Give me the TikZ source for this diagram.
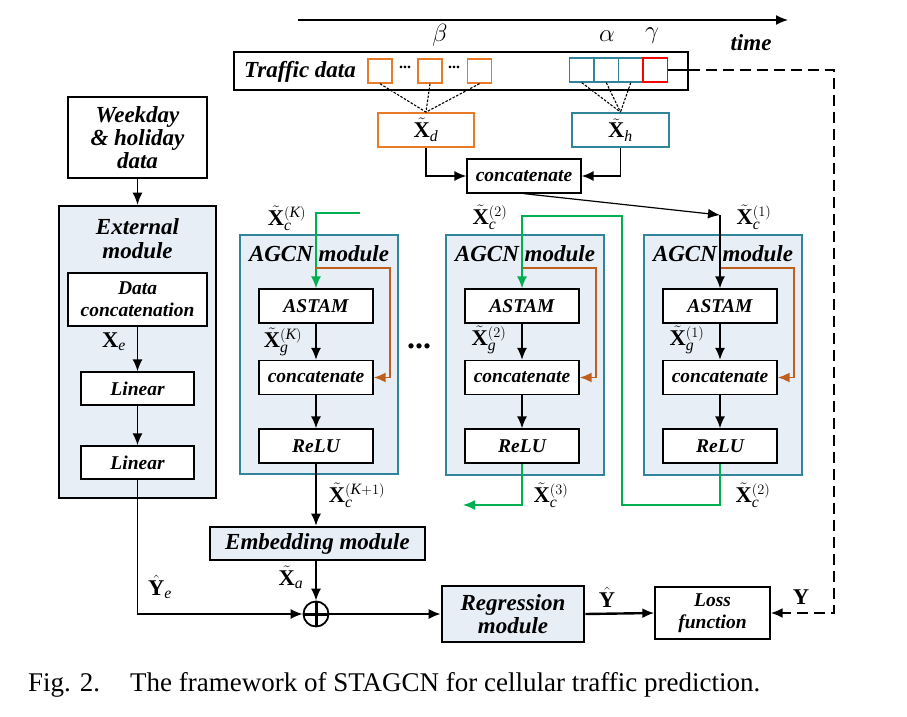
\documentclass[tikz,border=0pt]{standalone}
\usepackage{fontspec}
\setmainfont{Liberation Serif}
\usetikzlibrary{arrows.meta}
\definecolor{tealline}{RGB}{49,133,155}
\definecolor{orangeline}{RGB}{232,122,40}
\definecolor{greenline}{RGB}{0,176,80}
\definecolor{brownline}{RGB}{190,95,30}
\definecolor{modfill}{RGB}{232,238,246}
\newcommand{\headfont}{\fontsize{23}{25}\selectfont\bfseries\itshape}
\newcommand{\boxfont}{\fontsize{19.5}{23}\selectfont\bfseries\itshape}
\newcommand{\labfont}{\fontsize{22.5}{26}\selectfont}
\newcommand{\tX}{\tilde{\mathbf{X}}}
\tikzset{
  plainbox/.style={draw, fill=white, line width=1.3pt, inner sep=0pt, font=\boxfont},
  modbox/.style={draw=tealline, fill=modfill, line width=2pt, inner sep=0pt},
  thickbox/.style={draw, fill=modfill, line width=2.6pt, inner sep=0pt, align=center, font=\headfont},
  headtext/.style={inner sep=0pt, align=center, font=\headfont},
  lab/.style={inner sep=0pt, font=\labfont},
  conn/.style={->, line width=1.5pt},
  greenconn/.style={->, draw=greenline, line width=1.6pt},
  brownconn/.style={->, draw=brownline, line width=1.8pt},
  dotconn/.style={line width=1.1pt, dash pattern=on 2.5pt off 1.5pt},
  dashconn/.style={->, line width=2.2pt, dash pattern=on 11pt off 6pt},
  cell/.style={draw, fill=white, line width=1.4pt, minimum width=24pt, minimum height=24pt, inner sep=0pt}
}
\begin{document}
\begin{tikzpicture}[x=1pt, y=-1pt, >={Latex[length=12pt,width=10pt]}]
  \useasboundingbox (0,0) rectangle (907,717);
  % time axis
  \coordinate (t0) at (298,20);
  \coordinate (t1) at (788,20);
  \draw[conn] (t0) -- (t1);
  \node[headtext] (time) at (751,43) {time};
  \node[lab, font=\fontsize{25}{28}\selectfont] (beta) at (440,35) {$\beta$};
  \node[lab, font=\fontsize{25}{28}\selectfont] (alpha) at (607,36) {$\alpha$};
  \node[lab, font=\fontsize{25}{28}\selectfont] (gamma) at (652,36) {$\gamma$};
  % traffic data
  \node[draw, line width=1.3pt, minimum width=454pt, minimum height=38pt, inner sep=0pt] (traffic) at (461,71) {};
  \node[headtext] (traffictext) at (300,72) {Traffic data};
  \node[cell, draw=orangeline] (d1) at (380,71) {};
  \node[cell, draw=orangeline] (d2) at (430,71) {};
  \node[cell, draw=orangeline] (d3) at (479.5,71) {};
  \node[inner sep=0pt, font=\fontsize{16}{16}\selectfont\bfseries] (dots1) at (405,67) {...};
  \node[inner sep=0pt, font=\fontsize{16}{16}\selectfont\bfseries] (dots2) at (454,67) {...};
  \node[cell, draw=tealline, minimum width=24.5pt] (h1) at (581.75,70) {};
  \node[cell, draw=tealline, minimum width=24.5pt] (h2) at (606.25,70) {};
  \node[cell, draw=tealline, minimum width=24.5pt] (h3) at (630.75,70) {};
  \node[cell, draw=red, minimum width=24.5pt] (now) at (655.25,70) {};
  % daily and hourly parts
  \node[draw=orangeline, line width=1.8pt, minimum width=96pt, minimum height=34pt, inner sep=0pt, font=\labfont] (Xd) at (426,130) {$\tX_{\mathit{d}}$};
  \node[draw=tealline, line width=1.8pt, minimum width=97pt, minimum height=34pt, inner sep=0pt, font=\labfont] (Xh) at (620.5,130) {$\tX_{\mathit{h}}$};
  \draw[dotconn] (d1.south) -- (Xd.north);
  \draw[dotconn] (d2.south) -- (Xd.north);
  \draw[dotconn] (d3.south) -- (Xd.north);
  \draw[dotconn] (h1.south) -- (Xh.north);
  \draw[dotconn] (h2.south) -- (Xh.north);
  \draw[dotconn] (h3.south) -- (Xh.north);
  \node[plainbox, minimum width=114pt, minimum height=34pt] (cat0) at (524,176) {concatenate};
  \draw[conn] (Xd.south) |- (cat0.west);
  \draw[conn] (Xh.south) |- (cat0.east);
  % external branch
  \node[draw, line width=1.5pt, minimum width=139pt, minimum height=81pt, inner sep=0pt, align=center, font=\headfont] (week) at (137.5,137.5) {Weekday\\[-2pt]\& holiday\\[-2pt]data};
  \node[thickbox, minimum width=157pt, minimum height=292pt] (ext) at (137.5,352) {};
  \node[headtext] (exttitle) at (137.5,239) {External\\[-1pt]module};
  \node[plainbox, minimum width=139pt, minimum height=53pt, align=center] (dcat) at (137.5,299.5) {Data\\[-1pt]concatenation};
  \node[plainbox, minimum width=113pt, minimum height=33pt] (lin1) at (137.5,388.5) {Linear};
  \node[plainbox, minimum width=113pt, minimum height=33pt] (lin2) at (137.5,462.5) {Linear};
  \draw[conn] (week.south) -- (ext.north);
  \draw[conn] (dcat.south) -- (lin1.north);
  \draw[conn] (lin1.south) -- (lin2.north);
  \node[lab] (Xe) at (114,342) {$\mathbf{X}_{\mathit{e}}$};
  % AGCN module K
  \node[modbox, minimum width=158pt, minimum height=239pt] (agcnK) at (319,354.5) {};
  \node[headtext] (agcnKtitle) at (319,254) {AGCN module};
  \node[plainbox, minimum width=114pt, minimum height=34pt] (astamK) at (316,306) {ASTAM};
  \node[plainbox, minimum width=114pt, minimum height=34pt] (catK) at (316,377.5) {concatenate};
  \node[plainbox, minimum width=114pt, minimum height=34pt] (reluK) at (316,446) {ReLU};
  \draw[conn] (astamK.south) -- (catK.north);
  \draw[conn] (catK.south) -- (reluK.north);
  \coordinate (gK) at (360,213);
  \coordinate (bK) at (316,268);
  \draw[greenconn] (gK) -| (astamK.north);
  \draw[brownconn] (bK) -| ([xshift=16pt]catK.east) -- (catK.east);
  \node[lab] (XcK) at (287,218) {$\tX_{\mathit{c}}^{(\mathit{K})}$};
  \node[lab] (XgK) at (283,342) {$\tX_{\mathit{g}}^{(\mathit{K})}$};
  \node[inner sep=0pt, font=\fontsize{32}{32}\selectfont\bfseries] (dotsK) at (419,346) {...};
  % AGCN module 2
  \node[modbox, minimum width=158pt, minimum height=240pt] (agcn2) at (525,355) {};
  \node[headtext] (agcn2title) at (525,254) {AGCN module};
  \node[plainbox, minimum width=114pt, minimum height=34pt] (astam2) at (522,306) {ASTAM};
  \node[plainbox, minimum width=114pt, minimum height=34pt] (cat2) at (522,377.5) {concatenate};
  \node[plainbox, minimum width=114pt, minimum height=34pt] (relu2) at (522,446) {ReLU};
  \draw[conn] (astam2.south) -- (cat2.north);
  \draw[conn] (cat2.south) -- (relu2.north);
  \coordinate (b2) at (522,268);
  \draw[brownconn] (b2) -| ([xshift=16pt]cat2.east) -- (cat2.east);
  \node[lab] (Xc2top) at (490,217) {$\tX_{\mathit{c}}^{(2)}$};
  \node[lab] (Xg2) at (489,340) {$\tX_{\mathit{g}}^{(2)}$};
  % AGCN module 1
  \node[modbox, minimum width=158pt, minimum height=240pt] (agcn1) at (723,355) {};
  \node[headtext] (agcn1title) at (723,254) {AGCN module};
  \node[plainbox, minimum width=114pt, minimum height=34pt] (astam1) at (720,306) {ASTAM};
  \node[plainbox, minimum width=114pt, minimum height=34pt] (cat1) at (720,377.5) {concatenate};
  \node[plainbox, minimum width=114pt, minimum height=34pt] (relu1) at (720,446) {ReLU};
  \draw[conn] (astam1.south) -- (cat1.north);
  \draw[conn] (cat1.south) -- (relu1.north);
  \coordinate (b1) at (720,268);
  \draw[brownconn] (b1) -| ([xshift=16pt]cat1.east) -- (cat1.east);
  \node[lab] (Xc1) at (754,217) {$\tX_{\mathit{c}}^{(1)}$};
  \node[lab] (Xg1) at (687,340) {$\tX_{\mathit{g}}^{(1)}$};
  % links between modules
  \coordinate (c1) at (720,215);
  \draw[conn, line width=1.2pt] (cat0.south) -- (c1);
  \draw[conn] (c1) -- (astam1.north);
  \coordinate (g1) at (622,505);
  \coordinate (g1top) at (622,216);
  \draw[greenconn] (relu1.south) |- (g1) -- (g1top) -| (astam2.north);
  \coordinate (g2) at (463,505);
  \draw[greenconn] (relu2.south) |- (g2);
  \node[lab] (Xc3) at (551,495) {$\tX_{\mathit{c}}^{(3)}$};
  \node[lab] (Xc2) at (753,495) {$\tX_{\mathit{c}}^{(2)}$};
  \node[lab] (XcK1) at (357,495) {$\tX_{\mathit{c}}^{(\mathit{K}+1)}$};
  % output part
  \node[thickbox, minimum width=215pt, minimum height=33pt] (emb) at (317.5,543.5) {Embedding module};
  \draw[conn] (reluK.south) -- (reluK.south |- emb.north);
  \node[circle, draw, line width=1.8pt, minimum size=25pt, inner sep=0pt] (plus) at (316,614) {};
  \draw[line width=3pt] (plus.north) -- (plus.south) (plus.west) -- (plus.east);
  \draw[conn] (plus.north |- emb.south) -- (plus.north);
  \draw[conn] (lin2.south) |- (plus.west);
  \node[lab] (Xa) at (291,577) {$\tX_{\mathit{a}}$};
  \node[lab] (Ye) at (160,587) {$\hat{\mathbf{Y}}_{\mathit{e}}$};
  \node[thickbox, minimum width=142pt, minimum height=56pt] (reg) at (513,614) {Regression\\[-2pt]module};
  \draw[conn, line width=1.8pt] (plus.east) -- (reg.west);
  \node[draw, line width=1.3pt, minimum width=115pt, minimum height=52pt, inner sep=0pt, align=center, font=\boxfont] (loss) at (712.5,613) {Loss\\[-1pt]function};
  \draw[conn, line width=2.4pt] (reg.east) -- (loss.west);
  \node[lab] (Yhat) at (607,597) {$\hat{\mathbf{Y}}$};
  \node[lab] (Y) at (801,597) {$\mathbf{Y}$};
  \draw[line width=2.2pt] (now.east) -- (now.east -| traffic.east);
  \coordinate (dR) at (834,70);
  \draw[dashconn] (now.east -| traffic.east) -- (dR) |- (loss.east);
  % caption
  \node[anchor=west, inner sep=0pt, font=\fontsize{27}{30}\selectfont] (figno) at (28,685) {Fig. 2.};
  \node[anchor=west, inner sep=0pt, font=\fontsize{27}{30}\selectfont] (caption) at (130,685) {The framework of STAGCN for cellular traffic prediction.};
\end{tikzpicture}
\end{document}
